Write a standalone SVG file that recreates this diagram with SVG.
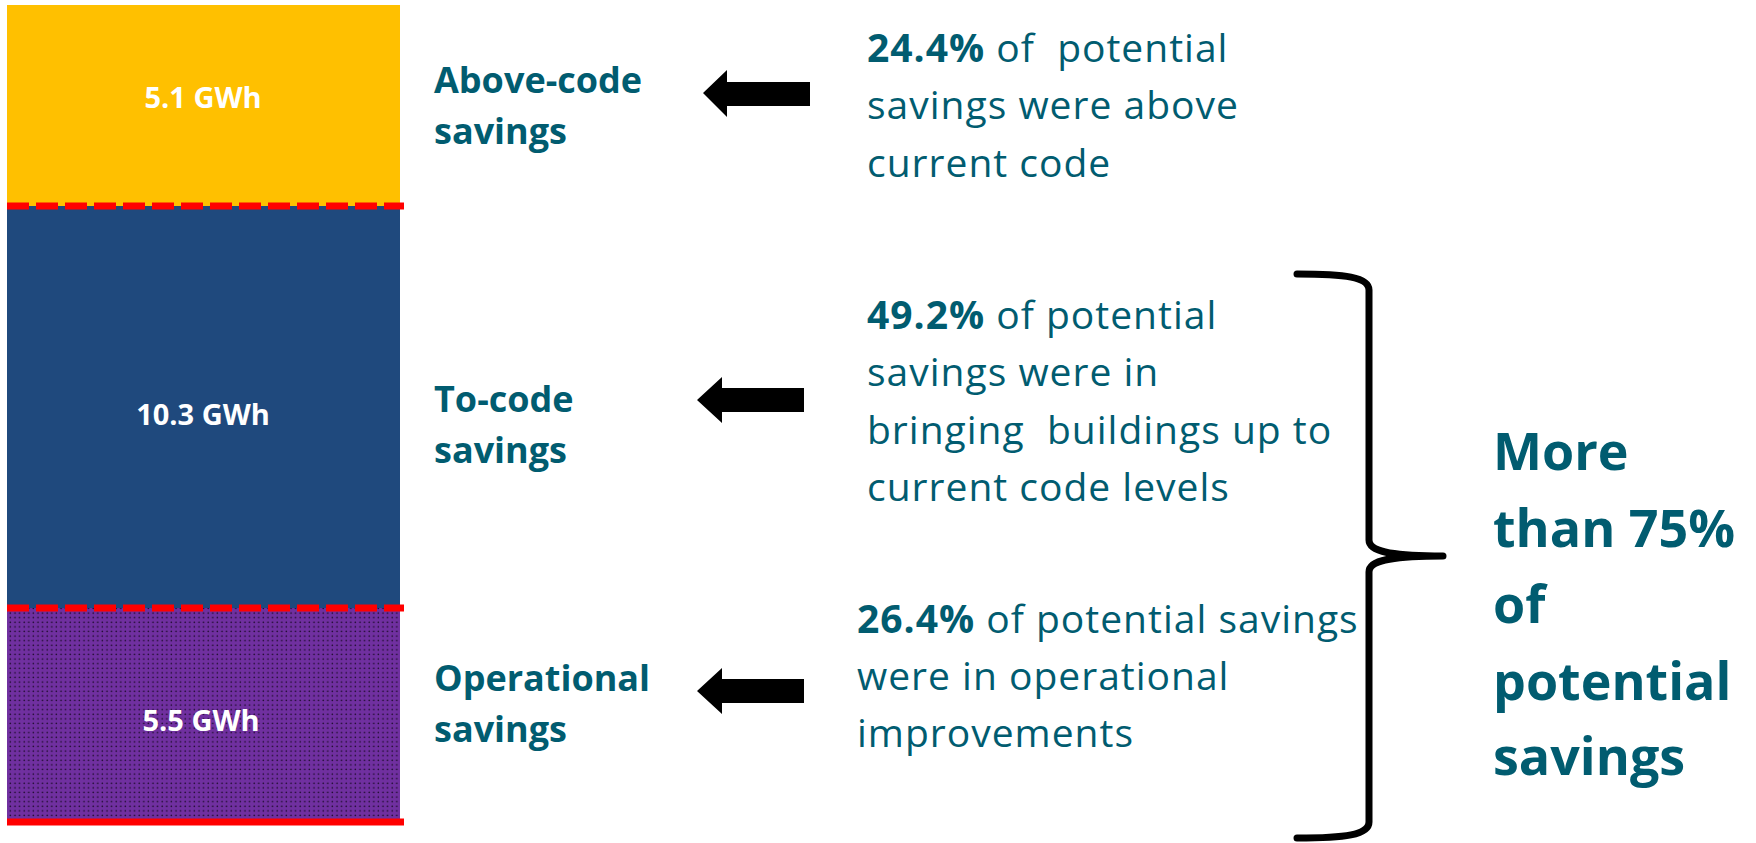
<svg xmlns="http://www.w3.org/2000/svg" width="1756" height="843" viewBox="0 0 1756 843">
  <style>
    .seg-label { font-family: "Open Sans", "Liberation Sans", sans-serif; font-weight: 700; font-size: 29px; fill: #ffffff; text-anchor: middle; }
    .cat { font-family: "Open Sans", "Liberation Sans", sans-serif; font-weight: 700; font-size: 36px; fill: #015c70; }
    .desc { font-family: "Open Sans", "Liberation Sans", sans-serif; font-weight: 400; font-size: 39px; letter-spacing: 1px; fill: #015c70; }
    .desc .b { font-weight: 700; }
    .big { font-family: "Open Sans", "Liberation Sans", sans-serif; font-weight: 700; font-size: 52px; fill: #015c70; }
    .dash { stroke: #ff0000; stroke-width: 7; stroke-dasharray: 22 7; fill: none; }
    .arrow { fill: #000000; }
  </style>
  <defs>
    <pattern id="dots" x="0" y="0" width="4.6" height="4.6" patternUnits="userSpaceOnUse">
      <rect width="4.6" height="4.6" fill="#7030a0"/>
      <circle cx="1.2" cy="1.2" r="0.8" fill="#1a0a28"/>
    </pattern>
  </defs>
  <rect width="1756" height="843" fill="#ffffff"/>

  <g id="bar-above-code">
    <rect x="7" y="5" width="393" height="201" fill="#ffc000"/>
    <text class="seg-label" x="203" y="108">5.1 GWh</text>
  </g>
  <g id="bar-to-code">
    <rect x="7" y="206" width="393" height="402" fill="#1f497d"/>
    <text class="seg-label" x="203" y="425">10.3 GWh</text>
  </g>
  <g id="bar-operational">
    <rect x="7" y="608" width="393" height="214" fill="url(#dots)"/>
    <text class="seg-label" x="201" y="731">5.5 GWh</text>
  </g>
  <g id="separators">
    <line class="dash" x1="7" y1="206" x2="404" y2="206"/>
    <line class="dash" x1="7" y1="608" x2="404" y2="608"/>
    <line x1="7" y1="822" x2="404" y2="822" stroke="#ff0000" stroke-width="7"/>
  </g>

  <g id="label-above-code">
    <text class="cat" x="434" y="93">Above-code</text>
    <text class="cat" x="434" y="144">savings</text>
  </g>
  <g id="label-to-code">
    <text class="cat" x="434" y="412">To-code</text>
    <text class="cat" x="434" y="463">savings</text>
  </g>
  <g id="label-operational">
    <text class="cat" x="434" y="691">Operational</text>
    <text class="cat" x="434" y="742">savings</text>
  </g>

  <g id="connectors">
    <polygon class="arrow" points="703,93 727,70 727,82 810,82 810,106 727,106 727,117"/>
    <polygon class="arrow" points="697,400 722,377 722,388 804,388 804,412 722,412 722,423"/>
    <polygon class="arrow" points="697,691 722,668 722,679 804,679 804,703 722,703 722,714"/>
  </g>

  <g id="desc-above-code">
    <text class="desc" x="867" y="62" xml:space="preserve"><tspan class="b">24.4%</tspan> of  potential</text>
    <text class="desc" x="867" y="119">savings were above</text>
    <text class="desc" x="867" y="177">current code</text>
  </g>
  <g id="desc-to-code">
    <text class="desc" x="867" y="329"><tspan class="b">49.2%</tspan> of potential</text>
    <text class="desc" x="867" y="386">savings were in</text>
    <text class="desc" x="867" y="444" xml:space="preserve">bringing  buildings up to</text>
    <text class="desc" x="867" y="501">current code levels</text>
  </g>
  <g id="desc-operational">
    <text class="desc" x="857" y="633"><tspan class="b">26.4%</tspan> of potential savings</text>
    <text class="desc" x="857" y="690">were in operational</text>
    <text class="desc" x="857" y="747">improvements</text>
  </g>

  <g id="brace">
    <path d="M1297,274 C1345,274 1369,277 1369,290 L1369,540 C1369,552 1392,556 1443,556 C1392,556 1369,560 1369,572 L1369,822 C1369,835 1345,838 1297,838" fill="none" stroke="#000000" stroke-width="7" stroke-linecap="round" stroke-linejoin="round"/>
  </g>

  <g id="summary">
    <text class="big" x="1493" y="470">More</text>
    <text class="big" x="1493" y="547">than 75%</text>
    <text class="big" x="1493" y="623">of</text>
    <text class="big" x="1493" y="700">potential</text>
    <text class="big" x="1493" y="775">savings</text>
  </g>
</svg>
